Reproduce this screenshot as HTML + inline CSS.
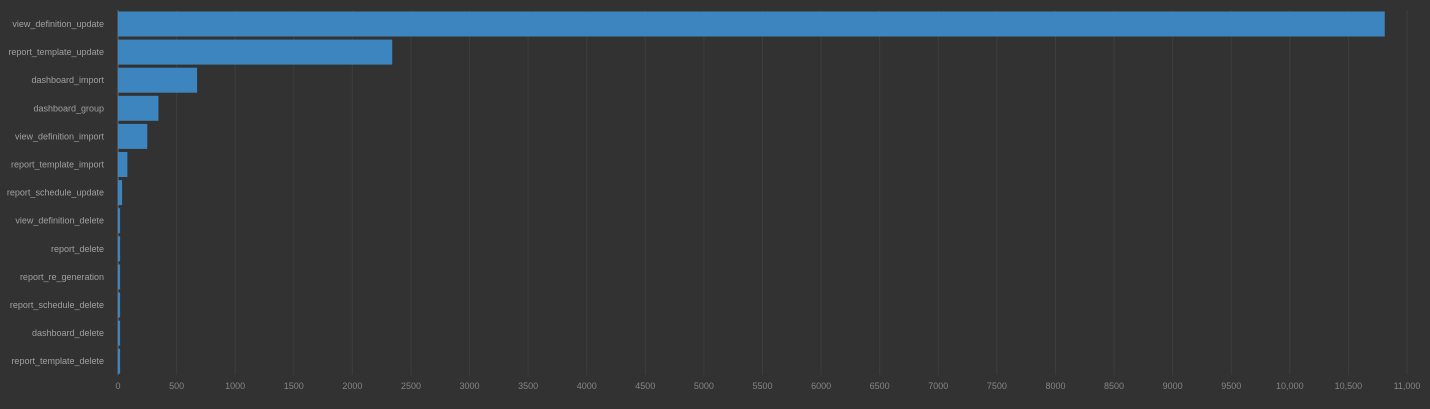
<!DOCTYPE html>
<html><head><meta charset="utf-8"><style>
html,body{margin:0;padding:0;background:#323232;}
svg{display:block;font-family:"Liberation Sans",sans-serif;}
</style></head><body>
<svg id="chart" width="1430" height="409"></svg>
<script>
const categories=["view_definition_update","report_template_update","dashboard_import","dashboard_group","view_definition_import","report_template_import","report_schedule_update","view_definition_delete","report_delete","report_re_generation","report_schedule_delete","dashboard_delete","report_template_delete"];
const values=[10810,2340,675,345,250,80,35,18,18,18,18,18,18];
const tickValues=[0,500,1000,1500,2000,2500,3000,3500,4000,4500,5000,5500,6000,6500,7000,7500,8000,8500,9000,9500,10000,10500,11000];
const tickLabels=["0","500","1000","1500","2000","2500","3000","3500","4000","4500","5000","5500","6000","6500","7000","7500","8000","8500","9000","9500","10,000","10,500","11,000"];
const svg=document.getElementById('chart');
const NS='http://www.w3.org/2000/svg';
const x0=118,x1=1407,maxV=11000,yTop=10,rowH=28.1,barH=25;
const xs=v=>x0+(v/maxV)*(x1-x0);
const yc=i=>24+i*rowH;
function mk(t,a){const e=document.createElementNS(NS,t);for(const k in a)e.setAttribute(k,a[k]);svg.appendChild(e);return e;}
tickValues.forEach((v,i)=>{
  const g=mk('line',{x1:xs(v),x2:xs(v),y1:yTop,y2:375,stroke:i===0?'#6a6a6a':'#3e3e3e','stroke-width':1});
  
  
  const t=mk('text',{x:xs(v),y:389,'text-anchor':'middle','font-size':9,fill:'#858585'});
  t.textContent=tickLabels[i];
  
  
});
categories.forEach((c,i)=>{
  const r=mk('rect',{x:x0,y:yc(i)-barH/2,width:Math.max(1,xs(values[i])-x0),height:barH,fill:'#3c85bf'});
  
  
  const t=mk('text',{x:104,y:yc(i)+3,'text-anchor':'end','font-size':9,fill:'#a0a0a0'});
  t.textContent=c;
  
  
});
</script>
</body></html>
